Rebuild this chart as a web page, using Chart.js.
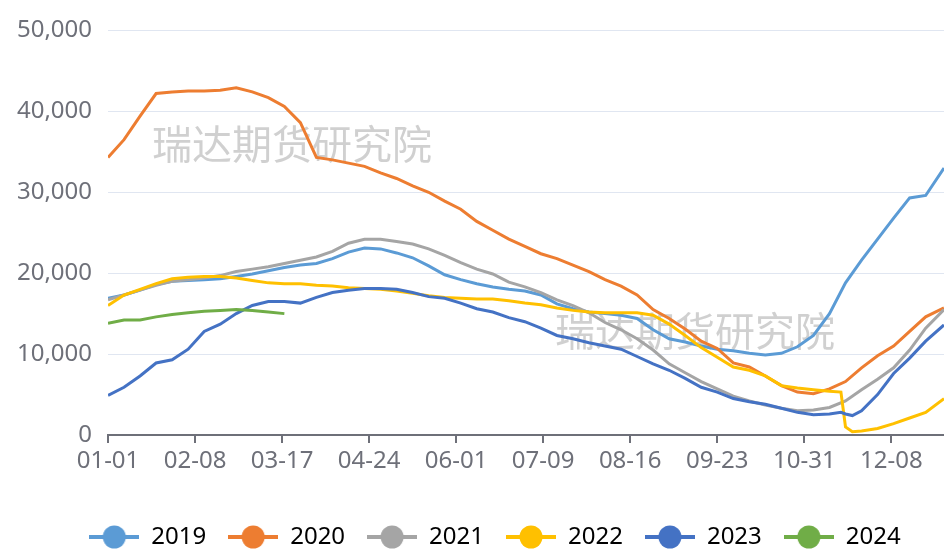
<!DOCTYPE html>
<html>
<head>
<meta charset="utf-8">
<script src="https://cdn.jsdelivr.net/npm/chart.js@4.4.1/dist/chart.umd.min.js"></script>
<style>
  html, body { margin: 0; padding: 0; background: #fff; }
</style>
</head>
<body>
<canvas id="chart" width="944" height="550"></canvas>
<script>
// day-of-year sample positions shared by all series (extra points around the 2022 drop)
const days = [0, 7, 14, 21, 28, 35, 42, 49, 56, 63, 70, 77, 84, 91, 98, 105, 112, 119, 126, 133,
  140, 147, 154, 161, 168, 175, 182, 189, 196, 203, 210, 217, 224, 231, 238, 245, 252, 259, 266, 273,
  280, 287, 294, 301, 308, 315, 320, 322, 325, 329, 336, 343, 350, 357, 365];

const tickDays = [0, 38, 76, 114, 152, 190, 228, 266, 304, 342];
const tickLabels = ['01-01', '02-08', '03-17', '04-24', '06-01', '07-09', '08-16', '09-23', '10-31', '12-08'];

const s2019 = [16900, 17300, 17900, 18600, 19000, 19100, 19200, 19300, 19600, 19900, 20300, 20700, 21000, 21200, 21800, 22600, 23100, 23000, 22500, 21900,
  20900, 19800, 19200, 18700, 18300, 18000, 17800, 17300, 16200, 15600, 15200, 15000, 14800, 14400, 13000, 11900, 11500, 11000, 10600, 10400,
  10100, 9900, 10100, 10900, 12300, 15000, null, 18800, null, 21600, 24200, 26800, 29300, 29600, 33000];

const s2020 = [34300, 36500, 39400, 42200, 42400, 42500, 42500, 42600, 42900, 42400, 41700, 40600, 38600, 34300, 34000, 33600, 33200, 32400, 31700, 30800,
  30000, 28900, 27900, 26400, 25300, 24200, 23300, 22400, 21800, 21000, 20200, 19200, 18400, 17300, 15500, 14400, 13100, 11600, 10700, 8900,
  8400, 7300, 6100, 5300, 5100, 5700, null, 6600, null, 8300, 9800, 11000, 12800, 14600, 15700];

const s2021 = [16700, 17300, 17900, 18500, 19000, 19200, 19400, 19700, 20200, 20500, 20800, 21200, 21600, 22000, 22700, 23700, 24200, 24200, 23900, 23600,
  23000, 22200, 21300, 20500, 19900, 18900, 18300, 17600, 16700, 16000, 15100, 13900, 13000, 11900, 10500, 8800, 7700, 6600, 5700, 4800,
  4200, 3700, 3300, 3000, 3100, 3400, null, 4200, null, 5600, 6900, 8300, 10500, 13200, 15500];

const s2022 = [16000, 17300, 18000, 18700, 19300, 19500, 19600, 19600, 19400, 19100, 18800, 18700, 18700, 18500, 18400, 18200, 18100, 18000, 17800, 17500,
  17200, 17000, 16900, 16800, 16800, 16600, 16300, 16100, 15700, 15400, 15200, 15100, 15100, 15100, 14800, 13700, 12300, 10800, 9600, 8400,
  8000, 7300, 6100, 5800, 5600, 5400, 5300, 1000, 400, 500, 800, 1400, 2100, 2800, 4500];

const s2023 = [4900, 5900, 7300, 8900, 9300, 10600, 12800, 13700, 15000, 16000, 16500, 16500, 16300, 17000, 17600, 17900, 18100, 18100, 18000, 17600,
  17100, 16900, 16300, 15600, 15200, 14500, 14000, 13200, 12300, 11900, 11400, 11000, 10600, 9700, 8800, 8000, 7000, 5900, 5300, 4500,
  4100, 3800, 3300, 2800, 2500, 2600, 2800, 2600, 2400, 3000, 5000, 7600, 9500, 11600, 13600];

const s2024 = [13800, 14200, 14200, 14600, 14900, 15100, 15300, 15400, 15500, 15400, 15200, 15000];

const seriesNames = ['2019', '2020', '2021', '2022', '2023', '2024'];
const seriesValues = [s2019, s2020, s2021, s2022, s2023, s2024];
const seriesColors = ['#5B9BD5', '#ED7D31', '#A5A5A5', '#FFC000', '#4472C4', '#70AD47'];

const watermark = '瑞达期货研究院';

// legend marker: short line with a dot in the middle
function makeMarker(color) {
  const c = document.createElement('canvas');
  c.width = 50;
  c.height = 26;
  const g = c.getContext('2d');
  g.strokeStyle = color;
  g.lineWidth = 4;
  g.beginPath();
  g.moveTo(0, 13);
  g.lineTo(50, 13);
  g.stroke();
  g.fillStyle = color;
  g.beginPath();
  g.arc(25, 13, 11.5, 0, Math.PI * 2);
  g.fill();
  return c;
}

const datasets = seriesNames.map((name, i) => ({
  label: name,
  data: days.map((d, k) => ({ x: d, y: seriesValues[i][k] === undefined ? null : seriesValues[i][k] })),
  borderColor: seriesColors[i],
  backgroundColor: seriesColors[i],
  borderWidth: 3,
  pointRadius: 0,
  tension: 0,
  spanGaps: true,
  order: seriesNames.length - i
}));

const watermarkPlugin = {
  id: 'watermark',
  beforeDatasetsDraw(chart) {
    const ctx = chart.ctx;
    ctx.save();
    ctx.font = '40px "Noto Sans CJK SC", sans-serif';
    ctx.fillStyle = 'rgba(170, 170, 170, 0.55)';
    ctx.textBaseline = 'middle';
    ctx.textAlign = 'left';
    ctx.fillText(watermark, 152, 144);
    ctx.fillText(watermark, 555, 331);
    ctx.restore();
  }
};

const legendShift = {
  id: 'legendShift',
  afterLayout(chart) {
    const lg = chart.legend;
    lg.left += 46;
    lg.top += 9;
    lg.bottom += 9;
  }
};

Chart.defaults.font.family = '"Noto Sans", "Open Sans", sans-serif';
Chart.defaults.font.size = 24;
Chart.defaults.color = '#6E7079';

new Chart(document.getElementById('chart'), {
  type: 'line',
  data: { datasets },
  plugins: [watermarkPlugin, legendShift],
  options: {
    responsive: false,
    animation: false,
    layout: { padding: { top: 27, right: 0, bottom: 0, left: 0 } },
    plugins: {
      tooltip: { enabled: false },
      legend: {
        position: 'bottom',
        labels: {
          color: '#595959',
          usePointStyle: true,
          pointStyleWidth: 50,
          padding: 22,
          font: { size: 24 },
          generateLabels(chart) {
            return chart.data.datasets.map((ds, i) => ({
              text: ds.label,
              fillStyle: ds.borderColor,
              strokeStyle: ds.borderColor,
              lineWidth: 0,
              pointStyle: makeMarker(ds.borderColor),
              hidden: !chart.isDatasetVisible(i),
              datasetIndex: i
            }));
          }
        }
      }
    },
    scales: {
      x: {
        type: 'linear',
        min: 0,
        max: 365,
        afterBuildTicks(scale) {
          scale.ticks = tickDays.map(v => ({ value: v }));
        },
        afterFit(scale) { scale.height = 59; },
        ticks: {
          padding: 4,
          maxRotation: 0,
          autoSkip: false,
          color: '#6E7079',
          callback(value) {
            const k = tickDays.indexOf(value);
            return k >= 0 ? tickLabels[k] : '';
          }
        },
        grid: {
          drawOnChartArea: false,
          drawTicks: true,
          tickLength: 8,
          lineWidth: 2,
          color: '#6E7079'
        },
        border: { display: true, color: '#6E7079', width: 2 }
      },
      y: {
        min: 0,
        max: 50000,
        afterFit(scale) { scale.width = 108; },
        ticks: {
          stepSize: 10000,
          padding: 16,
          color: '#6E7079',
          callback(value) { return value.toLocaleString('en-US'); }
        },
        grid: { color: '#E0E6F1', lineWidth: 1, drawTicks: false },
        border: { display: false }
      }
    }
  }
});
</script>
</body>
</html>
